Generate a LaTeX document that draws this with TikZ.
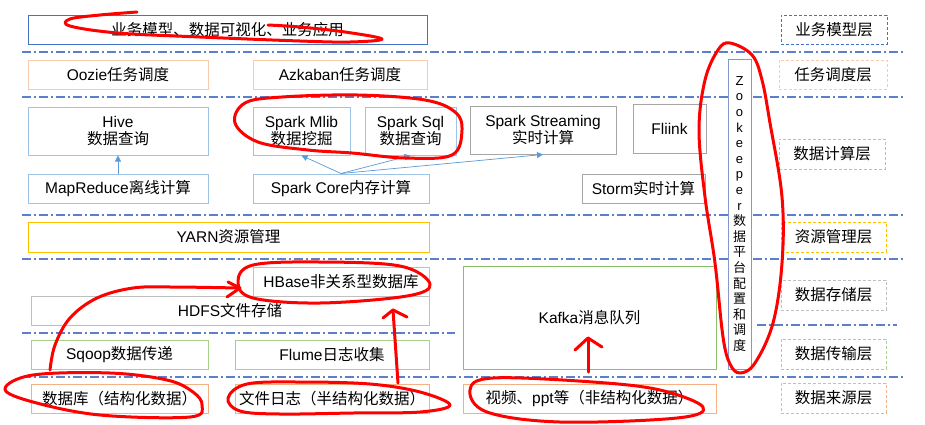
\documentclass[tikz,border=0pt]{standalone}
\usepackage{fontspec}
\setmainfont{Liberation Sans}
\newfontfamily\cjkf{Noto Sans CJK SC}
\newfontfamily\latf{Liberation Sans}
\usetikzlibrary{arrows.meta}
\XeTeXinterchartokenstate=1
\newXeTeXintercharclass\cjkcls
\newcount\myccnt
\myccnt="3000 \loop\XeTeXcharclass\myccnt=\cjkcls \advance\myccnt by 1 \ifnum\myccnt<"3040 \repeat
\myccnt="4E00 \loop\XeTeXcharclass\myccnt=\cjkcls \advance\myccnt by 1 \ifnum\myccnt<"A000 \repeat
\myccnt="FF00 \loop\XeTeXcharclass\myccnt=\cjkcls \advance\myccnt by 1 \ifnum\myccnt<"FF61 \repeat
\XeTeXinterchartoks 0 \cjkcls={\cjkf}
\XeTeXinterchartoks 4095 \cjkcls={\cjkf}
\XeTeXinterchartoks \cjkcls 0={\latf}
\XeTeXinterchartoks \cjkcls 4095={\latf}
\definecolor{cdblue}{HTML}{4472C4}
\definecolor{cpeach}{HTML}{F8CBAD}
\definecolor{clblue}{HTML}{9DC3E6}
\definecolor{cgray}{HTML}{A6A6A6}
\definecolor{clgray}{HTML}{BFBFBF}
\definecolor{czk}{HTML}{8497C8}
\definecolor{cyellow}{HTML}{FFC000}
\definecolor{cgreen}{HTML}{A9D18E}
\definecolor{ckafka}{HTML}{8DBF6B}
\definecolor{corange}{HTML}{F4B183}
\definecolor{cline}{HTML}{5B7FCB}
\definecolor{carrow}{HTML}{5B9BD5}
\definecolor{scr}{HTML}{FF0000}
\newcommand\bx[7]{\node[box=#6, minimum width={(#4-#2)*1pt}, minimum height={(#5-#3)*1pt}] (#1) at ({(#2+#4)/2},{(#3+#5)/2}) {#7};}
\newcommand\lb[6]{\node[lbl=#6, minimum width={(#4-#2)*1pt}, minimum height={(#5-#3)*1pt}] (#1) at ({(#2+#4)/2},{(#3+#5)/2}) {\csname lbtext#1\endcsname};}
\begin{document}
\begin{tikzpicture}[x=1pt,y=-1pt,
  box/.style={draw=#1, fill=white, line width=1pt, inner sep=0pt, align=center, font=\fontsize{15.5pt}{17.5pt}\selectfont},
  lbl/.style={box=#1, dash pattern=on 3pt off 2pt},
  layerline/.style={draw=cline, line width=1.3pt, dash pattern=on 9pt off 3pt on 2pt off 3pt},
  conn/.style={draw=carrow, line width=0.7pt, -{Triangle[length=6pt,width=6pt]}},
  scribble/.style={draw=scr, line width=3pt, line cap=round, line join=round}]
\useasboundingbox (0,0) rectangle (925,424);
\fill[white] (0,0) rectangle (925,424);
% layer separators
\draw[layerline] (22,52) -- (905,52);
\draw[layerline] (22,97) -- (905,97);
\draw[layerline] (22,215) -- (905,215);
\draw[layerline] (22,259) -- (905,259);
\draw[layerline] (22,333) -- (455,333);
\draw[layerline] (757,325) -- (897,325);
\draw[layerline] (22,377) -- (905,377);
% boxes
\bx{top}{28}{15}{427}{44}{cdblue}{业务模型、数据可视化、业务应用}
\bx{oozie}{28}{60}{208}{89}{cpeach}{Oozie任务调度}
\bx{azkaban}{253}{60}{427}{89}{cpeach}{Azkaban任务调度}
\bx{hive}{28}{107}{208}{155}{clblue}{Hive\\数据查询}
\bx{mapreduce}{28}{174}{208}{203}{clblue}{MapReduce离线计算}
\bx{mlib}{253}{107}{350}{155}{clblue}{Spark Mlib\\数据挖掘}
\bx{sql}{365}{107}{456}{155}{clblue}{Spark Sql\\数据查询}
\bx{core}{253}{174}{429}{203}{clblue}{Spark Core内存计算}
\bx{streaming}{470}{106}{616}{154}{cgray}{Spark Streaming\\实时计算}
\bx{fliink}{633}{104}{706}{153}{cgray}{Fliink}
\bx{storm}{582}{174}{705}{203}{cgray}{Storm实时计算}
\bx{yarn}{28}{222}{429}{252}{cyellow}{YARN资源管理}
\bx{hbase}{253}{267}{429}{297}{clgray}{HBase非关系型数据库}
\bx{hdfs}{31}{296}{429}{325}{clgray}{HDFS文件存储}
\bx{sqoop}{31}{340}{208}{369}{cgreen}{Sqoop数据传递}
\bx{flume}{235}{340}{429}{369}{cgreen}{Flume日志收集}
\bx{kafka}{463}{266}{716}{369}{ckafka}{Kafka消息队列}
\bx{db}{31}{384}{208}{413}{corange}{数据库（结构化数据）}
\bx{logs}{235}{384}{429}{413}{corange}{文件日志（半结构化数据）}
\bx{video}{463}{384}{716}{413}{corange}{视频、ppt等（非结构化数据）}
\node[box=czk, minimum width=23pt, minimum height=310pt, font=\fontsize{13pt}{15.6pt}\selectfont] (zk) at (739.5,214)
  {Z\\o\\o\\k\\e\\e\\p\\e\\r\\数\\据\\平\\台\\配\\置\\和\\调\\度};
% layer labels
\node[lbl=cdblue, minimum width=106pt, minimum height=29pt] (l1) at (834,29.5) {业务模型层};
\node[lbl=cpeach, minimum width=108pt, minimum height=29pt] (l2) at (833,74.5) {任务调度层};
\node[lbl=clblue, minimum width=106pt, minimum height=30pt] (l3) at (832,154) {数据计算层};
\node[lbl=cyellow, minimum width=105pt, minimum height=30pt] (l4) at (833.5,237) {资源管理层};
\node[lbl=clgray, minimum width=105pt, minimum height=30pt] (l5) at (833.5,295) {数据存储层};
\node[lbl=cgreen, minimum width=105pt, minimum height=30pt] (l6) at (833.5,354) {数据传输层};
\node[lbl=corange, minimum width=105pt, minimum height=30pt] (l7) at (833.5,398) {数据来源层};
% connectors
\draw[conn] (mapreduce.north) -- (hive.south);
\draw[conn] (core.north) -- (mlib.south);
\draw[conn] (core.north) -- (sql.south);
\draw[conn] (core.north) -- (streaming.south);
% red annotations
\draw[scribble] plot[smooth, tension=0.6] coordinates {(137,12) (100,15) (70,19) (70,26) (118,33) (200,37) (300,41) (350,42) (382,39) (345,32) (300,27) (268,25)};
\draw[scribble] plot[smooth cycle, tension=0.6] coordinates {(245,103) (282,97) (358,95) (425,100) (455,112) (462,130) (452,155) (405,158) (352,153) (308,150) (258,142) (235,123)};
\draw[scribble] plot[smooth cycle, tension=0.6] coordinates {(730,43) (752,55) (762,80) (770,123) (782,197) (782,263) (773,323) (755,363) (740,373) (730,364) (723,337) (715,263) (705,197) (699,130) (705,80) (718,50)};
\draw[scribble] plot[smooth cycle, tension=0.6] coordinates {(238,282) (253,265) (320,262) (400,266) (430,284) (407,296) (320,303) (253,298)};
\draw[scribble] plot[smooth cycle, tension=0.6] coordinates {(5,389) (33,375) (110,373) (167,380) (193,392) (202,405) (190,417) (100,415) (33,402)};
\draw[scribble] plot[smooth cycle, tension=0.6] coordinates {(228,398) (247,384) (300,382) (370,384) (420,392) (450,405) (420,412) (353,413) (280,414) (240,411)};
\draw[scribble] plot[smooth cycle, tension=0.6] coordinates {(470,390) (493,378) (593,382) (660,390) (703,407) (677,418) (560,422) (487,412)};
\coordinate (sqtip) at (240,288);
\coordinate (lgtip) at (393,310);
\coordinate (vdtip) at (588,338);
\draw[scribble] plot[smooth, tension=0.6] coordinates {(50,370) (55,345) (70,318) (97,298) (133,288) (173,287) (238,288)};
\draw[scribble] (228,282) -- (sqtip) -- (227,297);
\draw[scribble] (398,383) -- (lgtip);
\draw[scribble] (383,318) -- (lgtip) -- (407,317);
\draw[scribble] (588,372) -- (vdtip);
\draw[scribble] (575,350) -- (vdtip) -- (602,347);
\end{tikzpicture}
\end{document}
